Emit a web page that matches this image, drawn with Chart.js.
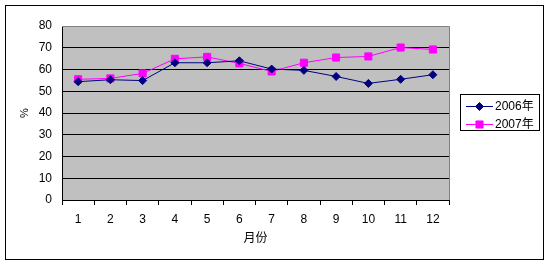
<!DOCTYPE html>
<html><head><meta charset="utf-8">
<script src="https://cdn.jsdelivr.net/npm/chart.js@4/dist/chart.umd.min.js"></script>
<style>html,body{margin:0;padding:0;background:#fff}#wrap{width:550px;height:265px}</style>
</head><body><div id="wrap"><canvas id="c" width="550" height="265"></canvas></div>
<script>
const months = ['1','2','3','4','5','6','7','8','9','10','11','12'];
const series2006 = [54.4, 55.3, 54.9, 63.1, 63.1, 64.0, 60.2, 59.6, 56.8, 53.6, 55.5, 57.6];
const series2007 = [55.5, 55.9, 58.2, 64.9, 65.8, 62.8, 59.1, 63.1, 65.5, 66.0, 70.1, 69.2];
const seriesNames = ['2006年', '2007年'];
const yTitle = '%';
const xTitle = '月份';

const FONT = "'Liberation Sans','Noto Sans CJK SC',sans-serif";

const framePlugin = {
  id: 'frame',
  beforeDraw(chart) {
    const ctx = chart.ctx, a = chart.chartArea;
    ctx.save();
    ctx.fillStyle = '#fff';
    ctx.fillRect(0, 0, chart.width, chart.height);
    ctx.fillStyle = '#C0C0C0';
    ctx.fillRect(a.left, a.top, a.right - a.left, a.bottom - a.top);
    ctx.restore();
  },
  afterDatasetsDraw(chart) {
    const ctx = chart.ctx, a = chart.chartArea;
    ctx.save();
    ctx.strokeStyle = '#808080';
    ctx.lineWidth = 1;
    ctx.beginPath();
    ctx.moveTo(a.left, a.top + 0.5);
    ctx.lineTo(Math.round(a.right) + 0.5, a.top + 0.5);
    ctx.lineTo(Math.round(a.right) + 0.5, a.bottom);
    ctx.stroke();
    ctx.strokeStyle = '#000';
    ctx.strokeRect(5.5, 5.5, 538, 254);
    const lx = 460, ly = 94, lw = 79, lh = 36;
    ctx.fillStyle = '#fff';
    ctx.fillRect(lx, ly, lw, lh);
    ctx.strokeRect(lx + 0.5, ly + 0.5, lw, lh);
    ctx.font = "12px " + FONT;
    ctx.textBaseline = 'middle';
    ctx.textAlign = 'left';
    chart.data.datasets.forEach((ds, i) => {
      const y = ly + 12 + i * 18;
      ctx.strokeStyle = ds.borderColor;
      ctx.lineWidth = 1;
      ctx.beginPath();
      ctx.moveTo(466, y + 0.5);
      ctx.lineTo(493, y + 0.5);
      ctx.stroke();
      ctx.fillStyle = ds.pointBackgroundColor;
      ctx.strokeStyle = ds.pointBorderColor;
      Chart.helpers.drawPoint(ctx, {pointStyle: ds.pointStyle, radius: ds.pointRadius, borderWidth: 1, rotation: 0}, 479.5, y + 0.5);
      ctx.fillStyle = '#000';
      ctx.fillText(ds.label, 495, y + 1);
    });
    ctx.restore();
  }
};

new Chart(document.getElementById('c'), {
  type: 'line',
  data: {
    labels: months,
    datasets: [
      {label: seriesNames[0], data: series2006, borderColor: '#000080', backgroundColor: '#000080',
       pointBackgroundColor: '#000080', pointBorderColor: '#000080', pointStyle: 'rectRot', pointRadius: 4,
       borderWidth: 1, tension: 0},
      {label: seriesNames[1], data: series2007, borderColor: '#FF00FF', backgroundColor: '#FF00FF',
       pointBackgroundColor: '#FF00FF', pointBorderColor: '#FF00FF', pointStyle: 'rect', pointRadius: 5,
       borderWidth: 1, tension: 0}
    ]
  },
  options: {
    responsive: false,
    animation: false,
    devicePixelRatio: 1,
    layout: {padding: {left: 0, right: 101, top: 26, bottom: 0}},
    plugins: {legend: {display: false}, tooltip: {enabled: false}},
    scales: {
      x: {
        offset: true,
        afterFit(s) { s.height = 65; },
        grid: {offset: true, drawOnChartArea: false, drawTicks: true, tickLength: 5, color: '#000'},
        border: {color: '#000', width: 1},
        ticks: {color: '#000', font: {family: FONT, size: 12}, padding: 7, maxRotation: 0},
        title: {display: true, text: xTitle, color: '#000', font: {family: FONT, size: 12}, padding: {top: 0, bottom: 19}}
      },
      y: {
        min: 0, max: 80,
        afterFit(s) { s.width = 62; },
        ticks: {stepSize: 10, color: '#000', font: {family: FONT, size: 12}, padding: 10},
        grid: {drawTicks: false, color: (c) => c.tick && c.tick.value === 80 ? '#808080' : '#000', lineWidth: 1},
        border: {color: '#000', width: 1},
        title: {display: true, text: yTitle, color: '#000', font: {family: FONT, size: 11}, padding: {top: 18, bottom: 0}}
      }
    }
  },
  plugins: [framePlugin]
});
</script>
</body></html>
